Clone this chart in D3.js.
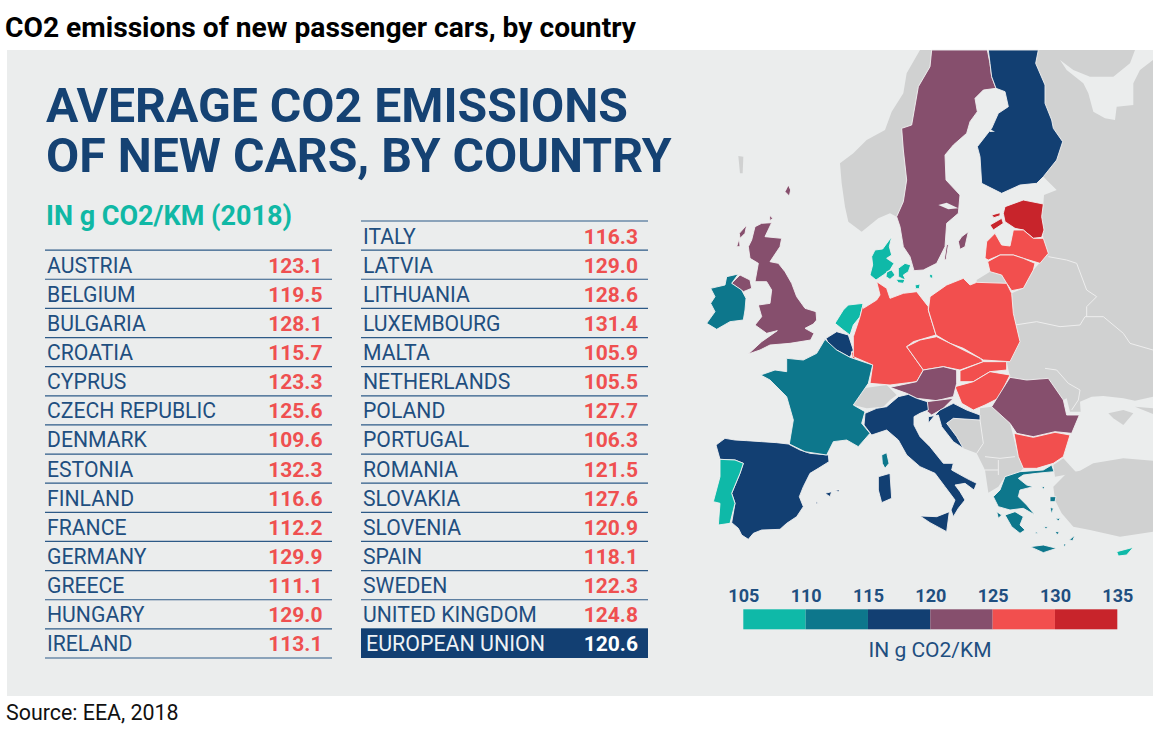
<!DOCTYPE html>
<html><head><meta charset="utf-8">
<script src="https://cdnjs.cloudflare.com/ajax/libs/d3/7.8.5/d3.min.js"></script>
<style>html,body{margin:0;padding:0;background:#fff}svg{display:block}text{font-family:Roboto,sans-serif}</style>
</head><body><svg id="c" width="1153" height="732"></svg>
<script>
const leftNames=["AUSTRIA","BELGIUM","BULGARIA","CROATIA","CYPRUS","CZECH REPUBLIC","DENMARK","ESTONIA","FINLAND","FRANCE","GERMANY","GREECE","HUNGARY","IRELAND"];
const leftValues=[123.1,119.5,128.1,115.7,123.3,125.6,109.6,132.3,116.6,112.2,129.9,111.1,129.0,113.1];
const rightNames=["ITALY","LATVIA","LITHUANIA","LUXEMBOURG","MALTA","NETHERLANDS","POLAND","PORTUGAL","ROMANIA","SLOVAKIA","SLOVENIA","SPAIN","SWEDEN","UNITED KINGDOM"];
const rightValues=[116.3,129.0,128.6,131.4,105.9,105.5,127.7,106.3,121.5,127.6,120.9,118.1,122.3,124.8];
const euName="EUROPEAN UNION", euValue=120.6;
const legendTicks=[105,110,115,120,125,130,135];
const bandColours=["#0fb9a8","#0d778c","#123f72","#864f6d","#f24f4e","#c8242b"];
const mapColourOverride={CYPRUS:107,LUXEMBOURG:129};

// Hand-digitised outlines in an arbitrary map grid (1389 x 1560 units)
const greyLand=[
 [[725,0],[690,0],[650,70],[640,130],[605,185],[585,240],[530,270],[490,310],[450,340],[455,400],[465,470],[475,515],[515,545],[565,505],[600,490],[620,500],[640,455],[650,390],[640,300],[635,235],[665,225],[685,110],[720,50]],
 [[1045,0],[1389,0],[1389,1040],[1335,1052],[1300,1045],[1240,1038],[1205,1040],[1170,1055],[1172,1085],[1140,1085],[1130,1045],[1120,1050],[1075,985],[1010,990],[960,982],[950,935],[990,875],[970,790],[965,730],[1000,715],[1030,660],[1075,610],[1060,565],[1055,500],[1060,462],[1062,435],[1100,420],[1060,380],[1100,330],[1118,275],[1090,235],[1085,210],[1065,160],[1065,105],[1037,40]],
 [[860,690],[900,665],[935,675],[950,700],[860,697]],
 [[490,1065],[520,1015],[590,1005],[620,1035],[600,1050],[580,1070],[530,1075]],
 [[775,1105],[870,1110],[870,1075],[905,1070],[960,1120],[985,1220],[1000,1255],[990,1265],[945,1280],[925,1310],[895,1328],[885,1260],[860,1210],[820,1195],[800,1160],[770,1120]],
 [[1090,1245],[1120,1225],[1150,1258],[1160,1268],[1095,1280]],
 [[1090,1310],[1130,1270],[1170,1262],[1210,1240],[1300,1225],[1389,1232],[1389,1445],[1290,1460],[1200,1440],[1150,1430],[1115,1390],[1095,1350]],
 [[1255,1090],[1300,1080],[1330,1090],[1300,1125],[1270,1105]],
 [[1335,1070],[1389,1075],[1389,1092]],
 [[145,318],[160,320],[158,370],[150,370]]
];
const seaCuts=[
 [[1110,30],[1150,60],[1200,80],[1270,80],[1320,40],[1335,0],[1389,0],[1389,30],[1350,60],[1330,100],[1330,165],[1280,170],[1275,210],[1245,205],[1210,185],[1195,130],[1180,100],[1130,60]],
 [[745,465],[770,458],[805,475],[775,478]],
 [[895,235],[915,245],[900,246]]
];
const greyBorders=[
 [[975,825],[1040,815],[1110,830],[1170,825],[1185,800],[1240,800],[1300,850],[1320,880],[1389,900]],
 [[1075,620],[1130,630],[1160,640],[1190,720],[1220,740],[1190,770],[1190,800]],
 [[1065,955],[1100,960],[1135,1000],[1170,1020],[1165,1050],[1145,1080]],
 [[870,1110],[880,1180],[860,1210]],[[885,1220],[930,1225],[975,1220]],[[925,1230],[925,1275]],[[885,1260],[925,1260]]
];
const shapes=[
 ["SWEDEN",[[[725,0],[892,0],[900,40],[905,80],[918,115],[880,120],[855,145],[862,185],[840,215],[830,250],[790,285],[765,315],[768,390],[810,435],[805,490],[770,520],[765,590],[740,640],[700,660],[672,662],[660,620],[640,590],[630,530],[620,500],[640,455],[650,390],[640,300],[635,235],[665,225],[685,110],[720,50]],
   [[815,560],[835,545],[825,590],[810,598],[805,575]],[[770,582],[775,585],[768,630],[763,628]]]],
 ["FINLAND",[[[895,0],[1045,0],[1037,40],[1065,105],[1065,160],[1085,210],[1090,235],[1118,275],[1100,330],[1060,380],[1040,400],[990,405],[935,430],[875,400],[870,320],[862,290],[905,235],[925,190],[955,170],[945,125],[918,115],[905,80],[900,40]]]],
 ["ESTONIA",[[[945,470],[1000,450],[1060,462],[1055,500],[1062,540],[1055,562],[1030,565],[1000,540],[975,535],[945,515],[940,490]],[[900,525],[935,505],[940,520],[910,540]],[[905,495],[930,488],[930,497],[912,503]]]],
 ["LATVIA",[[[885,625],[890,575],[915,550],[935,585],[960,588],[970,540],[1000,540],[1030,565],[1060,565],[1075,610],[1050,640],[1000,625],[970,615],[930,615],[895,630]]]],
 ["LITHUANIA",[[[893,635],[930,615],[970,615],[1000,625],[1035,640],[1030,660],[1000,715],[965,722],[950,700],[935,675],[900,665]]]],
 ["DENMARK",[[[605,560],[598,590],[605,615],[590,625],[612,640],[600,660],[580,675],[558,690],[540,675],[548,645],[545,620],[555,600],[578,597]],[[590,665],[605,660],[615,675],[600,688],[588,680]],[[625,655],[645,640],[662,645],[655,665],[640,675],[648,692],[625,680]],[[618,688],[645,688],[640,700],[625,698]],[[718,672],[728,675],[728,685],[720,683]],[[675,705],[690,702],[688,716],[677,716]]]],
 ["UNITED KINGDOM",[[[195,530],[215,520],[245,518],[225,560],[275,565],[270,590],[240,635],[265,640],[285,665],[305,700],[320,740],[345,775],[378,785],[380,810],[370,822],[345,835],[372,850],[362,870],[300,880],[240,885],[210,900],[175,912],[215,875],[262,842],[230,850],[195,825],[215,800],[205,765],[240,760],[245,720],[230,695],[195,695],[205,640],[180,625],[175,590],[185,570]],
   [[125,700],[150,675],[180,690],[185,715],[160,725]],[[148,550],[170,525],[165,550],[150,565]],[[295,405],[302,420],[298,438],[285,425]],[[238,495],[248,505],[240,512]],[[140,590],[148,565],[150,590]]]],
 ["IRELAND",[[[62,715],[105,705],[110,680],[145,672],[125,700],[155,720],[168,745],[165,780],[160,810],[120,815],[80,838],[50,820],[75,785],[62,760],[75,740]]]],
 ["NETHERLANDS",[[[435,820],[460,780],[475,765],[520,760],[510,800],[490,825],[480,855],[460,840]]]],
 ["BELGIUM",[[[408,865],[440,845],[475,855],[490,900],[480,922],[440,900],[420,890]]]],
 ["LUXEMBOURG",[[[484,905],[492,908],[497,925],[488,928]]]],
 ["GERMANY",[[[520,775],[560,750],[570,735],[560,695],[590,715],[600,745],[640,730],[680,725],[715,770],[715,780],[738,855],[670,875],[650,890],[700,960],[680,995],[600,1005],[540,1000],[548,945],[490,920],[490,860],[510,800],[520,760]]]],
 ["POLAND",[[[720,740],[770,705],[820,685],[840,705],[860,697],[950,700],[965,730],[970,790],[990,875],[960,935],[880,930],[820,895],[780,880],[738,855],[715,780]]]],
 ["CZECH REPUBLIC",[[[650,890],[690,870],[740,860],[780,880],[810,895],[870,925],[880,935],[810,960],[760,950],[700,960]]]],
 ["SLOVAKIA",[[[810,962],[880,935],[950,935],[950,960],[900,965],[850,995],[810,995]]]],
 ["HUNGARY",[[[795,1010],[850,995],[900,965],[960,975],[925,1045],[885,1065],[850,1080],[815,1060]]]],
 ["AUSTRIA",[[[600,1012],[680,995],[700,960],[760,950],[800,960],[800,1000],[790,1040],[740,1052],[680,1045],[650,1030]]]],
 ["SLOVENIA",[[[710,1055],[790,1045],[760,1075],[725,1095],[712,1085]]]],
 ["CROATIA",[[[750,1080],[790,1060],[830,1080],[870,1095],[870,1110],[790,1105],[770,1120],[800,1160],[820,1195],[790,1175],[755,1130],[745,1095],[715,1100],[715,1120],[735,1095]]]],
 ["ROMANIA",[[[905,1070],[960,982],[1010,990],[1075,985],[1120,1050],[1130,1095],[1168,1095],[1145,1150],[1095,1145],[1030,1160],[980,1150],[960,1120]]]],
 ["BULGARIA",[[[972,1150],[1030,1162],[1095,1147],[1140,1155],[1120,1220],[1090,1240],[1040,1255],[1000,1255],[985,1220]]]],
 ["GREECE",[[[910,1340],[930,1320],[945,1280],[990,1265],[1060,1260],[1085,1245],[1092,1265],[1040,1270],[1000,1275],[985,1285],[1010,1305],[1030,1310],[990,1320],[985,1340],[1010,1365],[1035,1395],[1000,1375],[960,1380],[925,1370]],
   [[945,1395],[975,1385],[1000,1400],[990,1425],[1005,1440],[990,1450],[965,1430]],
   [[1020,1490],[1060,1485],[1100,1495],[1060,1508]],[[1080,1340],[1098,1340],[1095,1355],[1080,1355]],[[1080,1372],[1090,1375],[1085,1392]],[[1095,1405],[1112,1405],[1105,1412]],[[1138,1470],[1155,1455],[1148,1472]],[[1095,1445],[1108,1445],[1102,1455]],[[1055,1310],[1065,1310],[1060,1318]],[[1060,1430],[1075,1430],[1068,1436]],[[920,1385],[935,1395],[925,1405]],[[1035,1445],[1045,1448],[1038,1452]],[[1120,1482],[1128,1482],[1124,1492]]]],
 ["CYPRUS",[[[1280,1505],[1330,1492],[1310,1515],[1285,1518]]]],
 ["SPAIN",[[[78,1185],[105,1165],[135,1170],[170,1172],[215,1175],[260,1178],[295,1182],[330,1200],[360,1210],[415,1215],[417,1235],[385,1255],[360,1270],[340,1310],[328,1340],[340,1370],[320,1400],[290,1420],[270,1438],[215,1440],[190,1450],[175,1468],[155,1455],[145,1435],[125,1418],[135,1360],[125,1330],[150,1270],[160,1240],[135,1230],[90,1228]],
   [[405,1330],[425,1325],[420,1340]],[[378,1355],[385,1360],[378,1362]],[[435,1320],[450,1320],[445,1325]]]],
 ["PORTUGAL",[[[90,1228],[135,1230],[160,1240],[150,1270],[125,1330],[135,1360],[120,1420],[85,1425],[90,1360],[70,1355],[90,1280]]]],
 ["FRANCE",[[[405,868],[440,900],[480,922],[548,945],[535,1000],[490,1065],[525,1085],[515,1120],[540,1150],[505,1190],[470,1170],[430,1175],[410,1215],[345,1205],[298,1182],[310,1110],[290,1040],[240,990],[212,975],[255,960],[290,965],[290,925],[340,930],[380,910]],
   [[575,1215],[590,1208],[597,1240],[585,1255],[577,1240]]]],
 ["ITALY",[[[525,1090],[560,1075],[590,1070],[625,1040],[655,1033],[680,1045],[712,1055],[715,1080],[690,1090],[672,1100],[672,1125],[690,1160],[720,1190],[760,1240],[790,1240],[785,1260],[830,1285],[860,1300],[852,1320],[825,1300],[795,1305],[810,1325],[825,1350],[805,1375],[790,1400],[783,1380],[795,1350],[765,1310],[735,1270],[690,1250],[650,1215],[625,1170],[590,1140],[545,1155],[522,1125]],
   [[690,1398],[740,1400],[778,1385],[770,1445],[720,1418]],[[565,1280],[600,1270],[605,1345],[575,1358],[565,1320]]]]
];

const x0=690,y0=50;
const svg=d3.select("#c");
svg.append("rect").attr("x",7).attr("y",50).attr("width",1146).attr("height",646).attr("fill","#ebeded");

// Map
const projection=d3.geoIdentity().scale(1/3).translate([x0,y0]);
const geo=d3.geoPath(projection);
const poly=rings=>({type:"MultiPolygon",coordinates:rings.map(r=>[r.concat([r[0]])])});
const colour=d3.scaleThreshold().domain(legendTicks.slice(1,-1)).range(bandColours);
const lookup=new Map(d3.zip(leftNames.concat(rightNames),leftValues.concat(rightValues)));
const m=svg.append("g");
m.selectAll("path.g").data(greyLand).join("path").attr("class","g").attr("d",r=>geo(poly([r]))).attr("fill","#d0d1d1");
m.selectAll("path.b").data(greyBorders).join("path").attr("class","b").attr("d",l=>geo({type:"LineString",coordinates:l})).attr("fill","none").attr("stroke","#eeeeee").attr("stroke-width",1);
m.selectAll("path.s").data(shapes).join("path").attr("class","s").attr("d",d=>geo(poly(d[1])))
 .attr("fill",d=>colour(mapColourOverride[d[0]]??lookup.get(d[0]))).attr("stroke","#f1f1f1").attr("stroke-width",0.9).attr("stroke-linejoin","round");
m.selectAll("path.c").data(seaCuts).join("path").attr("class","c").attr("d",r=>geo(poly([r]))).attr("fill","#ebeded");

// Titles
const T=(x,y,s,size,w,fill,anchor)=>svg.append("text").attr("x",x).attr("y",y).attr("font-size",size).attr("font-weight",w).attr("fill",fill).attr("text-anchor",anchor||"start").text(s);
T(5,37,"CO2 emissions of new passenger cars, by country",28.2,700,"#000");
T(6,720,"Source: EEA, 2018",21.4,400,"#111");
const head=svg.append("text").attr("font-size",48.2).attr("font-weight",700).attr("fill","#154273");
head.append("tspan").attr("x",46).attr("y",122).text("AVERAGE CO2 EMISSIONS");
head.append("tspan").attr("x",46).attr("y",172).text("OF NEW CARS, BY COUNTRY");
T(46,225,"IN g CO2/KM (2018)",27,700,"#10b8a5");

// Table
const rowY=d3.scaleLinear().domain([0,15]).range([221,658]);
function column(names,values,startRow,xL,xR,xVal){
  const g=svg.append("g");
  const rows=d3.range(names.length);
  g.selectAll("line").data(rows.concat(rows.length)).join("line")
   .attr("x1",xL).attr("x2",xR).attr("y1",i=>rowY(i+startRow)).attr("y2",i=>rowY(i+startRow)).attr("stroke","#2d5a87").attr("stroke-width",1.2);
  g.selectAll("text.n").data(rows).join("text").attr("class","n").attr("x",xL+2).attr("y",i=>rowY(i+startRow)+22.5).attr("font-size",21.2).attr("fill","#1f4f80").text(i=>names[i]);
  g.selectAll("text.v").data(rows).join("text").attr("class","v").attr("x",xVal).attr("y",i=>rowY(i+startRow)+22.5).attr("font-size",21).attr("font-weight",700).attr("fill","#ef5050").attr("text-anchor","end").text(i=>values[i].toFixed(1));
}
column(leftNames,leftValues,1,45,332,322.5);
column(rightNames,rightValues,0,361,648,638);
svg.append("rect").attr("x",361).attr("y",rowY(14)).attr("width",287).attr("height",rowY(15)-rowY(14)).attr("fill","#123f72");
T(366,rowY(14)+22.5,euName,21.4,400,"#eef2f5");
T(638,rowY(14)+22.5,euValue.toFixed(1),21,700,"#ffffff","end");

// Legend
const lx=d3.scaleLinear().domain([105,135]).range([743.3,1117.3]);
svg.append("g").selectAll("rect").data(d3.pairs(legendTicks)).join("rect")
 .attr("x",d=>lx(d[0])).attr("width",d=>lx(d[1])-lx(d[0])).attr("y",609.3).attr("height",20).attr("fill",d=>colour(d[0]));
const ax=svg.append("g").attr("transform","translate(0,609)").call(d3.axisTop(lx).tickValues(legendTicks).tickSize(0).tickPadding(7).tickFormat(d3.format("d")));
ax.select(".domain").remove();
ax.selectAll("text").attr("font-size",18).attr("font-weight",700).attr("fill","#1f4f80").attr("font-family","Roboto,sans-serif");
T(930,657,"IN g CO2/KM",21,400,"#1f4f80","middle");
</script></body></html>
